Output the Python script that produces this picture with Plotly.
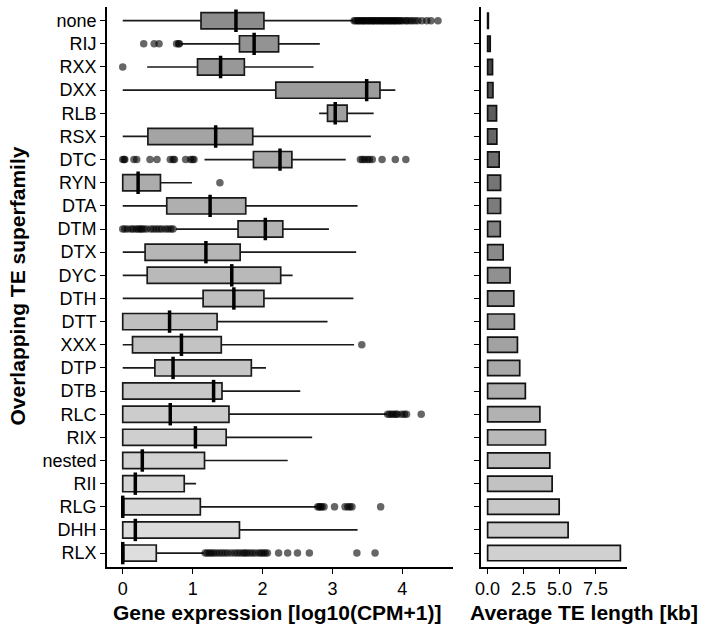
import plotly.graph_objects as go

# TE superfamilies, top to bottom
categories = ["none", "RIJ", "RXX", "DXX", "RLB", "RSX", "DTC", "RYN", "DTA", "DTM",
              "DTX", "DYC", "DTH", "DTT", "XXX", "DTP", "DTB", "RLC", "RIX", "nested",
              "RII", "RLG", "DHH", "RLX"]

# Box statistics of gene expression [log10(CPM+1)]
lower_whisker = [0.00, 0.83, 0.35, 0.00, 2.81, 0.00, 1.17, 0.00, 0.00, 0.76,
                 0.00, 0.00, 0.00, 0.00, 0.00, 0.00, 0.00, 0.00, 0.00, 0.00,
                 0.00, 0.00, 0.00, 0.00]
q1_values = [1.12, 1.67, 1.07, 2.19, 2.93, 0.36, 1.87, 0.00, 0.63, 1.65,
             0.32, 0.35, 1.15, 0.00, 0.14, 0.46, 0.00, 0.00, 0.00, 0.00,
             0.00, 0.00, 0.00, 0.00]
median_values = [1.62, 1.88, 1.40, 3.49, 3.04, 1.33, 2.25, 0.22, 1.25, 2.04,
                 1.19, 1.56, 1.59, 0.67, 0.84, 0.72, 1.30, 0.68, 1.04, 0.28,
                 0.18, 0.00, 0.18, 0.00]
q3_values = [2.02, 2.23, 1.74, 3.68, 3.21, 1.86, 2.42, 0.54, 1.76, 2.29,
             1.68, 2.26, 2.02, 1.35, 1.41, 1.84, 1.42, 1.52, 1.48, 1.17,
             0.88, 1.11, 1.67, 0.48]
upper_whisker = [3.30, 2.82, 2.73, 3.90, 3.59, 3.55, 3.19, 0.99, 3.36, 2.95,
                 3.34, 2.43, 3.30, 2.93, 3.31, 2.05, 2.54, 3.78, 2.71, 2.36,
                 1.05, 2.78, 3.36, 1.16]

# Outlying genes: superfamily and expression
outlier_family = (["none"] * 45 + ["RIJ"] * 6 + ["RXX"] + ["DTC"] * 23 + ["RYN"]
                  + ["DTM"] * 20 + ["XXX"] + ["RLC"] * 10 + ["RLG"] * 11 + ["RLX"] * 31)
outlier_value = [
    # none
    3.31, 3.33, 3.36, 3.37, 3.40, 3.41, 3.44, 3.45, 3.47, 3.50, 3.51, 3.54, 3.55,
    3.58, 3.59, 3.61, 3.64, 3.65, 3.68, 3.69, 3.72, 3.73, 3.75, 3.78, 3.79, 3.82,
    3.83, 3.86, 3.87, 3.90, 3.91, 3.94, 3.96, 3.98, 4.01, 4.05, 4.07, 4.11, 4.14,
    4.18, 4.22, 4.28, 4.35, 4.41, 4.51,
    # RIJ
    0.30, 0.45, 0.52, 0.77, 0.80, 0.81,
    # RXX
    0.00,
    # DTC
    0.00, 0.02, 0.03, 0.16, 0.20, 0.39, 0.49, 0.68, 0.72, 0.74, 0.90, 0.97, 1.00,
    1.02, 3.40, 3.43, 3.46, 3.50, 3.53, 3.57, 3.71, 3.90, 4.05,
    # RYN
    1.39,
    # DTM
    0.00, 0.03, 0.07, 0.12, 0.15, 0.19, 0.22, 0.25, 0.27, 0.30, 0.34, 0.40, 0.44,
    0.48, 0.52, 0.56, 0.61, 0.65, 0.69, 0.72,
    # XXX
    3.42,
    # RLC
    3.79, 3.82, 3.85, 3.88, 3.91, 3.93, 3.99, 4.03, 4.06, 4.27,
    # RLG
    2.79, 2.81, 2.83, 2.85, 2.88, 3.03, 3.18, 3.22, 3.25, 3.28, 3.69,
    # RLX
    1.18, 1.21, 1.24, 1.27, 1.30, 1.34, 1.38, 1.42, 1.46, 1.50, 1.55, 1.60, 1.64,
    1.68, 1.72, 1.75, 1.78, 1.82, 1.86, 1.90, 1.95, 1.98, 2.01, 2.04, 2.07, 2.23,
    2.36, 2.50, 2.67, 3.35, 3.61,
]

# Average TE length [kb]
avg_length_kb = [0.05, 0.18, 0.34, 0.37, 0.62, 0.64, 0.80, 0.90, 0.90, 0.88,
                 1.08, 1.56, 1.82, 1.86, 2.07, 2.23, 2.62, 3.63, 4.02, 4.32,
                 4.48, 4.97, 5.59, 9.22]

x_ticks_expr = [0, 1, 2, 3, 4]
x_ticks_len = [0.0, 2.5, 5.0, 7.5]

FONT = "Liberation Sans, Arial, Helvetica, sans-serif"
W, H = 702, 633
n = len(categories)


def grey(level):
    v = int(round(level))
    return f"rgb({v},{v},{v})"


box_fill = [grey(140 + 82 * (i / (n - 1)) ** 0.8) for i in range(n)]
bar_fill = [grey(30 + 178 * (i / (n - 1)) ** 0.6) for i in range(n)]

fig = go.Figure()

for i, cat in enumerate(categories):
    fig.add_trace(go.Box(
        y=[cat], q1=[q1_values[i]], median=[median_values[i]], q3=[q3_values[i]],
        lowerfence=[lower_whisker[i]], upperfence=[upper_whisker[i]],
        orientation="h", fillcolor=box_fill[i],
        line=dict(color="#1a1a1a", width=1.7), whiskerwidth=0, width=0.7,
        boxpoints=False, showlegend=False, hoverinfo="skip",
        xaxis="x", yaxis="y",
    ))

# thick median bars
fig.add_trace(go.Scatter(
    x=median_values, y=categories, mode="markers",
    marker=dict(symbol="line-ns-open", size=16, color="#000000",
                line=dict(color="#000000", width=3.5)),
    showlegend=False, hoverinfo="skip", xaxis="x", yaxis="y",
))

fig.add_trace(go.Scatter(
    x=outlier_value, y=outlier_family, mode="markers",
    marker=dict(size=7.5, color="rgba(0,0,0,0.6)", line=dict(width=0)),
    showlegend=False, hoverinfo="skip", xaxis="x", yaxis="y",
))

fig.add_trace(go.Bar(
    x=avg_length_kb, y=categories, orientation="h", width=0.66,
    marker=dict(color=bar_fill, line=dict(color="#111111", width=1.7)),
    showlegend=False, hoverinfo="skip", xaxis="x2", yaxis="y2",
))

axis_common = dict(
    showline=True, linecolor="black", linewidth=1.6, mirror=False,
    ticks="outside", ticklen=5, tickwidth=1.4, tickcolor="black",
    showgrid=False, zeroline=False,
    tickfont=dict(family=FONT, size=18, color="black"),
    automargin=False,
)

y_dom = [1 - 567 / H, 1 - 6.8 / H]
cat_order = categories[::-1]

fig.update_layout(
    width=W, height=H,
    margin=dict(l=0, r=0, t=0, b=0),
    paper_bgcolor="white", plot_bgcolor="white",
    bargap=0.3,
    xaxis=dict(domain=[107 / W, 453 / W], range=[-0.225, 4.725],
               tickvals=x_ticks_expr, anchor="y", **axis_common),
    yaxis=dict(domain=y_dom, type="category", categoryorder="array",
               categoryarray=cat_order, range=[-0.6, n - 0.4], anchor="x",
               **axis_common),
    xaxis2=dict(domain=[481 / W, 627 / W], range=[-0.46, 9.68],
                tickvals=x_ticks_len, tickformat=".1f", anchor="y2", **axis_common),
    yaxis2=dict(domain=y_dom, type="category", categoryorder="array",
                categoryarray=cat_order, range=[-0.6, n - 0.4], anchor="x2",
                showticklabels=False, **axis_common),
    annotations=[
        dict(text="<b>Gene expression [log10(CPM+1)]</b>", xref="paper", yref="paper",
             x=277 / W, y=1 - 612 / H, xanchor="center", yanchor="middle",
             showarrow=False, font=dict(family=FONT, size=21, color="black")),
        dict(text="<b>Average TE length [kb]</b>", xref="paper", yref="paper",
             x=584 / W, y=1 - 612 / H, xanchor="center", yanchor="middle",
             showarrow=False, font=dict(family=FONT, size=21, color="black")),
        dict(text="<b>Overlapping TE superfamily</b>", xref="paper", yref="paper",
             x=17 / W, y=1 - 286.5 / H, xanchor="center", yanchor="middle",
             textangle=-90, showarrow=False,
             font=dict(family=FONT, size=21, color="black")),
    ],
)

fig.write_html("out.html")
